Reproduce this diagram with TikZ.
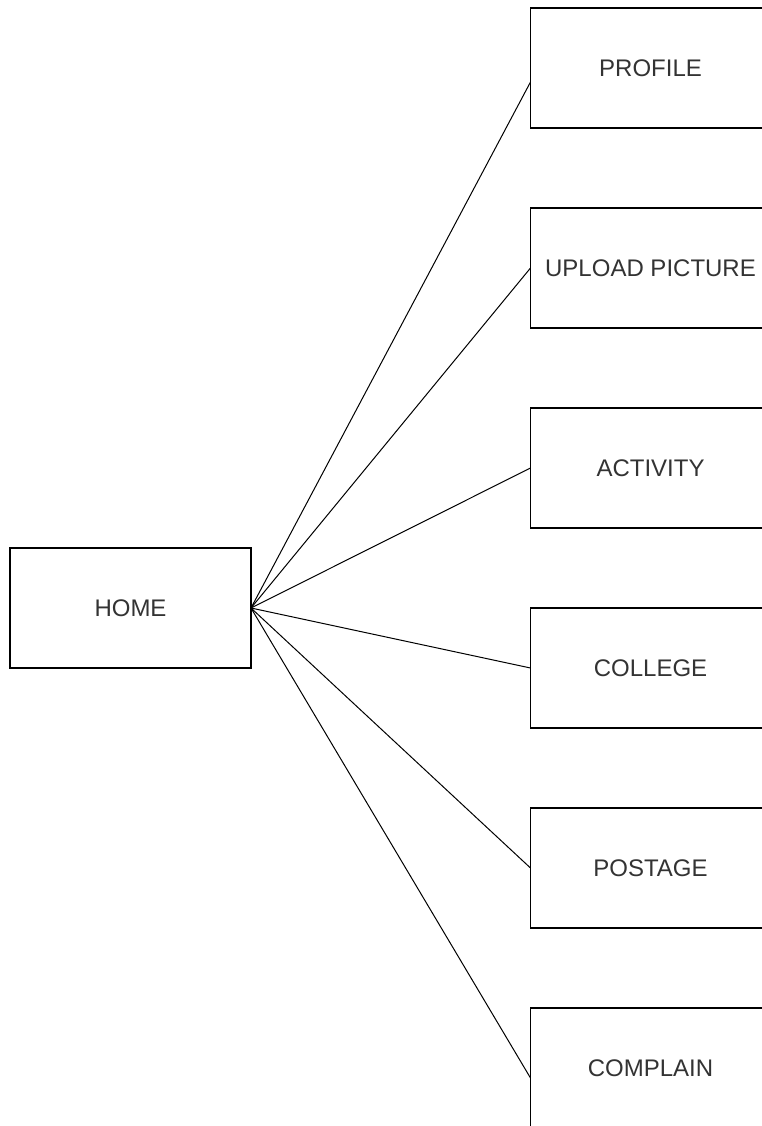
\documentclass[tikz,border=0pt]{standalone}
\usepackage{fontspec}
\setmainfont{Liberation Sans}
\usetikzlibrary{positioning}
\begin{document}
\begin{tikzpicture}
  [x=1pt, y=-1pt, node distance=80pt,
   page/.style={draw, line width=1.3pt, minimum width=240pt, minimum height=120pt,
     inner sep=0pt, outer sep=0pt, text=black!80, font=\fontsize{24}{28}\selectfont},
   link/.style={line width=1pt}]
  \clip (0,0) rectangle (762,1126);
  \node [page, minimum width=241pt] (home) at (130.5,608) {HOME};
  \node [page] (profile) at (650.5,68) {PROFILE};
  \node [page] (upload) [below=of profile] {UPLOAD PICTURE};
  \node [page] (activity) [below=of upload] {ACTIVITY};
  \node [page] (college) [below=of activity] {COLLEGE};
  \node [page] (postage) [below=of college] {POSTAGE};
  \node [page] (complain) [below=of postage] {COMPLAIN};

  \draw [link] (home.east) -- ([yshift=-14pt]profile.west);
  \draw [link] (home.east) -- (upload.west);
  \draw [link] (home.east) -- (activity.west);
  \draw [link] (home.east) -- (college.west);
  \draw [link] (home.east) -- (postage.west);
  \draw [link] (home.east) -- ([yshift=-10pt]complain.west);
\end{tikzpicture}
\end{document}
